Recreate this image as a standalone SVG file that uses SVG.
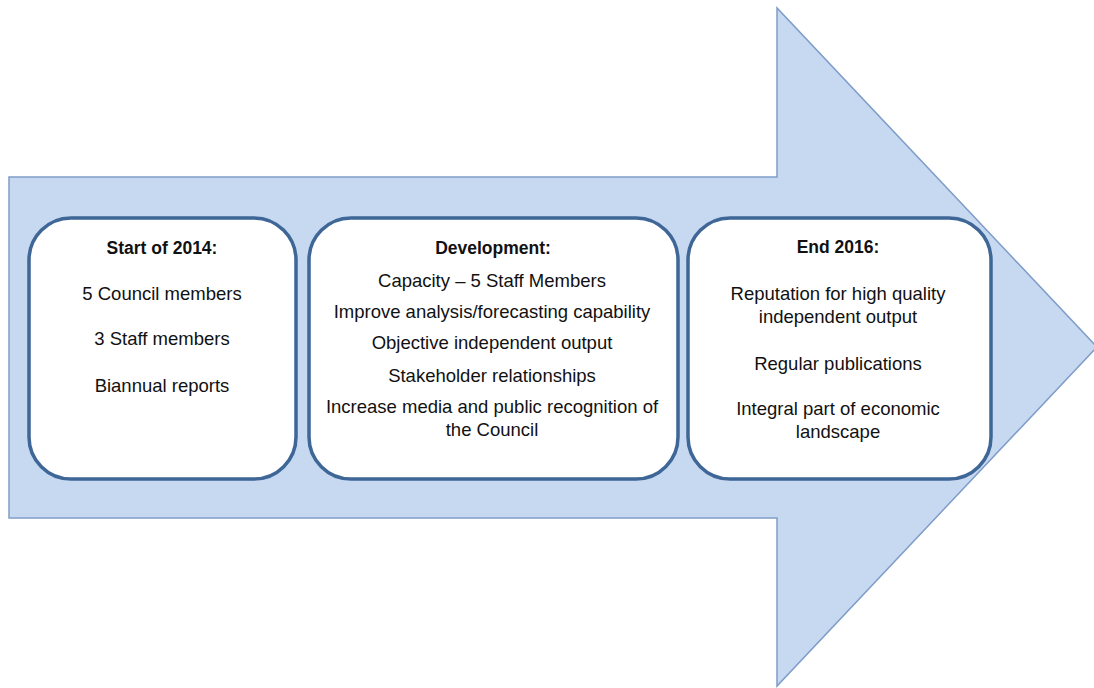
<svg xmlns="http://www.w3.org/2000/svg" width="1094" height="688" viewBox="0 0 1094 688">
  <style>
    .arrow { fill: #c6d9f1; stroke: #7f9dc9; stroke-width: 1.5; }
    .box { fill: #ffffff; stroke: #3e6696; stroke-width: 3.5; }
    text { font-family: "Liberation Sans", Arial, sans-serif; font-size: 18.5px; fill: #111; text-anchor: middle; }
    .head { font-weight: bold; font-size: 17.5px; }
  </style>
  <rect width="1094" height="688" fill="#ffffff"/>

  <!-- big block arrow behind the stages -->
  <polygon class="arrow" points="9,177 777,177 777,8 1097,347 777,686 777,518 9,518"/>

  <g id="start-2014">
    <rect class="box" x="29" y="218" width="267" height="261" rx="42" ry="42"/>
    <text class="head" x="162" y="254">Start of 2014:</text>
    <text x="162" y="300">5 Council members</text>
    <text x="162" y="345">3 Staff members</text>
    <text x="162" y="392">Biannual reports</text>
  </g>

  <g id="development">
    <rect class="box" x="309" y="218" width="369" height="261" rx="42" ry="42"/>
    <text class="head" x="493" y="254">Development:</text>
    <text x="492" y="287">Capacity – 5 Staff Members</text>
    <text x="492" y="318">Improve analysis/forecasting capability</text>
    <text x="492" y="349">Objective independent output</text>
    <text x="492" y="382">Stakeholder relationships</text>
    <text x="492" y="413">Increase media and public recognition of</text>
    <text x="492" y="436">the Council</text>
  </g>

  <g id="end-2016">
    <rect class="box" x="688" y="218" width="303" height="261" rx="42" ry="42"/>
    <text class="head" x="838" y="253">End 2016:</text>
    <text x="838" y="300">Reputation for high quality</text>
    <text x="838" y="323">independent output</text>
    <text x="838" y="370">Regular publications</text>
    <text x="838" y="415">Integral part of economic</text>
    <text x="838" y="438">landscape</text>
  </g>

  <g id="connectors"></g>
</svg>
